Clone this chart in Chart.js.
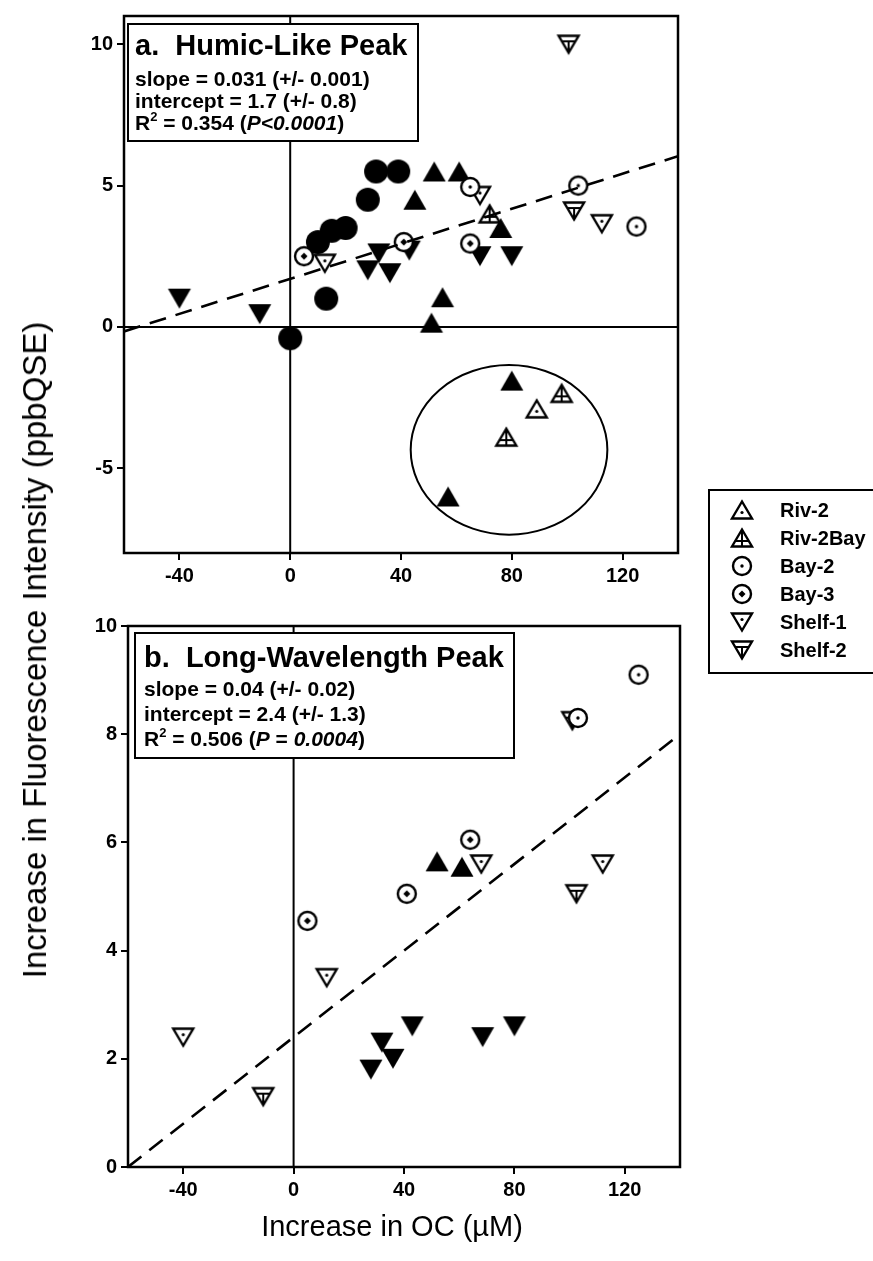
<!DOCTYPE html>
<html>
<head>
<meta charset="utf-8">
<script src="https://cdn.jsdelivr.net/npm/chart.js@4.4.0/dist/chart.umd.min.js"></script>
<style>
  body { margin: 0; background: #fff; }
  #wrap { position: relative; width: 873px; height: 1261px; overflow: hidden; font-family: "Liberation Sans", Arial, sans-serif; }
  canvas { position: absolute; left: 0; }
  #chartA { top: 0; }
  #chartB { top: 600px; }
  .axis-title { position: absolute; color: #000; white-space: nowrap; }
  #yTitle { left: 35px; top: 650px; font-size: 33px; transform: translate(-50%, -50%) rotate(-90deg); }
  #xTitle { left: 392px; top: 1226px; font-size: 29px; transform: translate(-50%, -50%); }
</style>
</head>
<body>
<div id="wrap">
  <canvas id="chartA" width="873" height="690"></canvas>
  <canvas id="chartB" width="873" height="661"></canvas>
  <div id="yTitle" class="axis-title">Increase in Fluorescence Intensity (ppbQSE)</div>
  <div id="xTitle" class="axis-title">Increase in OC (µM)</div>
</div>
<script>
const FONT = '"Liberation Sans", Arial, sans-serif';

const seriesNames = ['Riv-2', 'Riv-2Bay', 'Bay-2', 'Bay-3', 'Shelf-1', 'Shelf-2'];

const xTicks = [-40, 0, 40, 80, 120];
const humicYTicks = [-5, 0, 5, 10];
const longYTicks = [0, 2, 4, 6, 8, 10];

// a. humic-like peak, [OC increase, fluorescence increase]
const humicRiv2 = [[89, -2.9]];
const humicRiv2Bay = [[72, 4.0], [78, -3.9], [98, -2.35]];
const humicBay2 = [[65, 4.95], [104, 5.0], [125, 3.55]];
const humicBay3 = [[5, 2.5], [41, 3.0], [65, 2.95]];
const humicShelf1 = [[12.5, 2.25], [68.5, 4.65], [112.5, 3.65]];
const humicShelf2 = [[100.5, 10.0], [102.5, 4.1]];
const humicFilledCircle = [[0, -0.4], [10, 3.0], [13, 1.0], [15, 3.4], [20, 3.5], [28, 4.5], [31, 5.5], [39, 5.5]];
const humicFilledUp = [[45, 4.5], [51, 0.15], [52, 5.5], [55, 1.05], [57, -6.0], [61, 5.5], [76, 3.5], [80, -1.9]];
const humicFilledDown = [[-40, 1.0], [-11, 0.45], [28, 2.0], [32, 2.6], [36, 1.9], [43, 2.7], [68.5, 2.5], [80, 2.5]];

// b. long-wavelength peak
const longRiv2 = [];
const longRiv2Bay = [];
const longBay2 = [[103, 8.3], [125, 9.1]];
const longBay3 = [[5, 4.55], [41, 5.05], [64, 6.05]];
const longShelf1 = [[-40, 2.4], [12, 3.5], [68, 5.6], [112, 5.6]];
const longShelf2 = [[-11, 1.3], [101, 8.25], [102.5, 5.05]];
const longFilledUp = [[52, 5.65], [61, 5.55]];
const longFilledDown = [[28, 1.8], [32, 2.3], [36, 2.0], [43, 2.6], [68.5, 2.4], [80, 2.6]];

const humicFit = { slope: 0.031, intercept: 1.7 };
const longFit = { slope: 0.04, intercept: 2.4 };

// outlier group circled in panel a (centre and radii in data units)
const humicOutliers = { x: 79, y: -4.35, rx: 35.5, ry: 3.0 };

// ---- marker glyphs ----
function marker(kind) {
  const c = document.createElement('canvas');
  c.width = c.height = 28;
  const g = c.getContext('2d');
  const m = 14;
  g.strokeStyle = '#000';
  g.fillStyle = '#000';
  g.lineWidth = 2.4;
  const tri = (dir, w, h) => {
    g.beginPath();
    g.moveTo(m, m - dir * h / 2);
    g.lineTo(m + w / 2, m + dir * h / 2);
    g.lineTo(m - w / 2, m + dir * h / 2);
    g.closePath();
  };
  const open = () => { g.fillStyle = '#fff'; g.fill(); g.stroke(); g.fillStyle = '#000'; };
  const dot = (x, y, r) => { g.beginPath(); g.arc(x, y, r, 0, Math.PI * 2); g.fill(); };
  const seg = (x1, y1, x2, y2) => { g.beginPath(); g.moveTo(x1, y1); g.lineTo(x2, y2); g.stroke(); };
  switch (kind) {
    case 'circle': dot(m, m, 12); break;
    case 'up': tri(1, 23, 20); g.fill(); break;
    case 'down': tri(-1, 23, 20); g.fill(); break;
    case 'Riv-2': tri(1, 20, 17); open(); dot(m, m + 2.5, 1.6); break;
    case 'Riv-2Bay':
      tri(1, 20, 17); open();
      g.lineWidth = 2;
      seg(m, m - 8, m, m + 8);
      seg(m - 6, m + 3, m + 6, m + 3);
      break;
    case 'Bay-2':
      g.beginPath(); g.arc(m, m, 9, 0, Math.PI * 2); open();
      dot(m, m, 1.7);
      break;
    case 'Bay-3':
      g.beginPath(); g.arc(m, m, 9, 0, Math.PI * 2); open();
      g.beginPath(); g.moveTo(m, m - 3.5); g.lineTo(m + 3.5, m); g.lineTo(m, m + 3.5); g.lineTo(m - 3.5, m); g.closePath(); g.fill();
      break;
    case 'Shelf-1': tri(-1, 20, 17); open(); dot(m, m - 2.5, 1.6); break;
    case 'Shelf-2':
      tri(-1, 20, 17); open();
      g.lineWidth = 2;
      seg(m - 6, m - 3, m + 6, m - 3);
      seg(m, m - 3, m, m + 8);
      break;
  }
  return c;
}

const glyphs = {};
['circle', 'up', 'down'].concat(seriesNames).forEach(k => { glyphs[k] = marker(k); });

function pts(arr) { return arr.map(p => ({ x: p[0], y: p[1] })); }

function scatterSet(label, arr, glyph, order) {
  return { type: 'scatter', label, data: pts(arr), pointStyle: glyphs[glyph], pointRadius: 11, order, clip: false };
}

function fitLine(fit, xMin, xMax) {
  return {
    type: 'line', label: 'fit',
    data: [{ x: xMin, y: fit.intercept + fit.slope * xMin }, { x: xMax, y: fit.intercept + fit.slope * xMax }],
    borderColor: '#000', borderWidth: 2.6, borderDash: [17, 10], pointRadius: 0, order: 0, fill: false
  };
}

// text runs: [text, font, dy]
function drawRuns(ctx, x, y, runs) {
  runs.forEach(r => {
    ctx.font = r[1];
    ctx.fillText(r[0], x, y + (r[2] || 0));
    x += ctx.measureText(r[0]).width;
  });
}

const panelDecor = {
  id: 'panelDecor',
  beforeDatasetsDraw(chart, args, opts) {
    const { ctx, chartArea: a, scales: { x, y } } = chart;
    ctx.save();
    ctx.strokeStyle = '#000';
    ctx.lineWidth = 2;
    const x0 = x.getPixelForValue(0);
    ctx.beginPath(); ctx.moveTo(x0, a.top); ctx.lineTo(x0, a.bottom); ctx.stroke();
    if (y.min < 0) {
      const y0 = y.getPixelForValue(0);
      ctx.beginPath(); ctx.moveTo(a.left, y0); ctx.lineTo(a.right, y0); ctx.stroke();
    }
    if (opts.ring) {
      const r = opts.ring;
      const cx = x.getPixelForValue(r.x), cy = y.getPixelForValue(r.y);
      const rx = x.getPixelForValue(r.x + r.rx) - cx;
      const ry = cy - y.getPixelForValue(r.y + r.ry);
      ctx.beginPath(); ctx.ellipse(cx, cy, rx, ry, 0, 0, Math.PI * 2); ctx.stroke();
    }
    // statistics box
    const b = opts.box;
    const bx = a.left + b.dx, by = a.top + b.dy;
    ctx.fillStyle = '#fff';
    ctx.fillRect(bx, by, b.w, b.h);
    ctx.strokeRect(bx, by, b.w, b.h);
    ctx.fillStyle = '#000';
    ctx.textBaseline = 'alphabetic';
    ctx.textAlign = 'left';
    ctx.font = 'bold 29px ' + FONT;
    ctx.fillText(b.title, bx + b.pad, by + b.lines[0]);
    b.stats.forEach((runs, i) => drawRuns(ctx, bx + b.pad, by + b.lines[i + 1], runs));
    ctx.restore();
  },
  afterDraw(chart, args, opts) {
    const { ctx, chartArea: a } = chart;
    ctx.save();
    ctx.strokeStyle = '#000';
    ctx.lineWidth = 2.5;
    ctx.strokeRect(a.left, a.top, a.right - a.left, a.bottom - a.top);
    if (opts.legend) {
      const L = opts.legend;
      ctx.lineWidth = 2;
      ctx.strokeRect(L.left, L.top, L.w, L.h);
      ctx.fillStyle = '#000';
      ctx.font = 'bold 20px ' + FONT;
      ctx.textBaseline = 'middle';
      seriesNames.forEach((name, i) => {
        const yy = L.top + L.first + i * L.step;
        const img = glyphs[name];
        ctx.drawImage(img, L.left + L.sym - img.width / 2, yy - img.height / 2);
        ctx.fillText(name, L.left + L.text, yy + 1);
      });
    }
    ctx.restore();
  }
};

const B = 'bold 21px ' + FONT;
const BI = 'italic bold 21px ' + FONT;
const SUP = 'bold 13px ' + FONT;

function axisOpts(ticks, min, max, size) {
  return {
    type: 'linear', min, max,
    afterBuildTicks: s => { s.ticks = ticks.map(v => ({ value: v })); },
    afterFit: s => { if (s.isHorizontal()) s.height = size; else s.width = size; },
    grid: { display: true, drawOnChartArea: false, drawTicks: true, tickLength: 7, color: '#000', lineWidth: 2 },
    border: { display: false },
    ticks: { color: '#000', padding: 4, font: { family: FONT, size: 20, weight: 'bold' } }
  };
}

function panel(id, sets, yTicks, yMin, yMax, layout, decor) {
  return new Chart(document.getElementById(id), {
    data: { datasets: sets },
    options: {
      responsive: false,
      animation: false,
      events: [],
      layout: { padding: layout.padding },
      scales: {
        x: axisOpts(xTicks, -60, 140, layout.xh),
        y: axisOpts(yTicks, yMin, yMax, layout.yw)
      },
      plugins: { legend: { display: false }, tooltip: { enabled: false }, panelDecor: decor }
    },
    plugins: [panelDecor]
  });
}

panel('chartA', [
  fitLine(humicFit, -60, 140),
  scatterSet('Riv-2', humicRiv2, 'Riv-2', 1),
  scatterSet('Riv-2Bay', humicRiv2Bay, 'Riv-2Bay', 1),
  scatterSet('Bay-2', humicBay2, 'Bay-2', 1),
  scatterSet('Bay-3', humicBay3, 'Bay-3', 1),
  scatterSet('Shelf-1', humicShelf1, 'Shelf-1', 1),
  scatterSet('Shelf-2', humicShelf2, 'Shelf-2', 1),
  scatterSet('circles', humicFilledCircle, 'circle', 2),
  scatterSet('up', humicFilledUp, 'up', 2),
  scatterSet('down', humicFilledDown, 'down', 2)
], humicYTicks, -8, 11, {
  padding: { left: 0, right: 195, top: 14, bottom: 90 }, xh: 47, yw: 124
}, {
  ring: humicOutliers,
  box: {
    dx: 4, dy: 8, w: 290, h: 117, pad: 7, lines: [31, 62, 84, 106],
    title: 'a.  Humic-Like Peak',
    stats: [
      [['slope = 0.031 (+/- 0.001)', B]],
      [['intercept = 1.7 (+/- 0.8)', B]],
      [['R', B], ['2', SUP, -9], [' = 0.354 (', B], ['P<0.0001', BI], [')', B]]
    ]
  },
  // right edge runs past the page, as in the original layout
  legend: { left: 709, top: 490, w: 175, h: 183, first: 20, step: 28, sym: 33, text: 71 }
});

panel('chartB', [
  fitLine(longFit, -60, 140),
  scatterSet('Riv-2', longRiv2, 'Riv-2', 1),
  scatterSet('Riv-2Bay', longRiv2Bay, 'Riv-2Bay', 1),
  scatterSet('Bay-2', longBay2, 'Bay-2', 1),
  scatterSet('Bay-3', longBay3, 'Bay-3', 1),
  scatterSet('Shelf-1', longShelf1, 'Shelf-1', 1),
  scatterSet('Shelf-2', longShelf2, 'Shelf-2', 1),
  scatterSet('up', longFilledUp, 'up', 2),
  scatterSet('down', longFilledDown, 'down', 2)
], longYTicks, 0, 10, {
  padding: { left: 0, right: 193, top: 26, bottom: 44 }, xh: 50, yw: 128
}, {
  box: {
    dx: 7, dy: 7, w: 379, h: 125, pad: 9, lines: [34, 63, 88, 113],
    title: 'b.  Long-Wavelength Peak',
    stats: [
      [['slope = 0.04 (+/- 0.02)', B]],
      [['intercept = 2.4 (+/- 1.3)', B]],
      [['R', B], ['2', SUP, -9], [' = 0.506 (', B], ['P', BI], [' = ', B], ['0.0004', BI], [')', B]]
    ]
  }
});
</script>
</body>
</html>
